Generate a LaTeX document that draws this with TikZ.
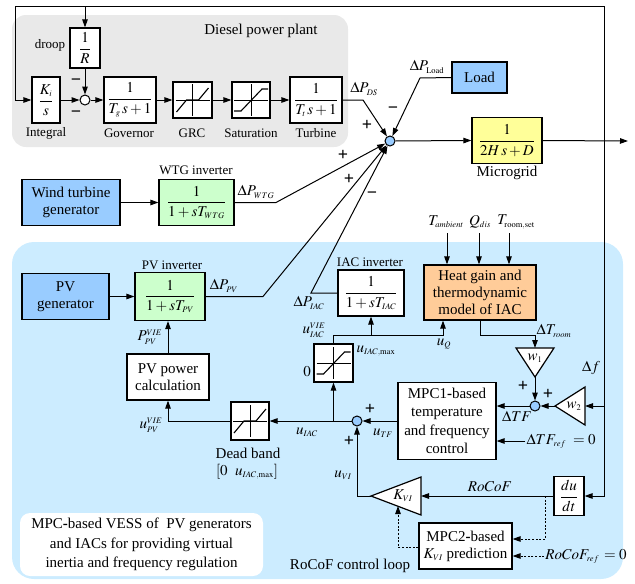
\documentclass[tikz,border=0pt]{standalone}
\usepackage{amsmath}
\usepackage{mathptmx}
\usepackage{fontspec}
\setmainfont{Liberation Serif}
\usetikzlibrary{arrows.meta, positioning, calc}
\DeclareMathSizes{15}{15}{8.5}{6.5}
\DeclareMathSizes{13}{13}{8}{6}
\definecolor{dieselgray}{RGB}{233,233,233}
\definecolor{vessblue}{RGB}{204,236,255}
\definecolor{genblue}{RGB}{153,204,255}
\definecolor{invgreen}{RGB}{204,255,204}
\definecolor{gridyellow}{RGB}{255,255,153}
\definecolor{heatorange}{RGB}{255,204,153}
\definecolor{sumblue}{RGB}{153,204,255}
\newcommand{\fsz}[2]{\fontsize{#1}{#2}\selectfont}

\begin{document}
\begin{tikzpicture}[
    x=1pt, y=-1pt,
    blk/.style={rectangle, draw, line width=1.2pt, fill=#1, inner sep=0pt,
                align=center, font=\fsz{15}{17}},
    blk/.default=white,
    caplbl/.style={font=\fsz{13}{15}, inner sep=1pt},
    lbl/.style={font=\fsz{15}{17}, inner sep=1pt},
    sgn/.style={font=\fsz{18}{18}\bfseries, inner sep=0pt},
    sumj/.style={circle, draw, line width=1pt, fill=#1, minimum size=10pt, inner sep=0pt},
    sumj/.default=sumblue,
    arr/.style={-{Triangle[length=8pt,width=5.5pt]}, line width=1pt},
    dotarr/.style={arr, dash pattern=on 2pt off 1.6pt},
    tri/.style={draw, line width=1.2pt, fill=white, line join=miter}
]
\useasboundingbox (0,0) rectangle (635,584);

% background regions
\fill[dieselgray, rounded corners=14pt] (12,15) rectangle (348,147);
\fill[vessblue, rounded corners=22pt] (12,242) rectangle (623,579);
\node[lbl] (dieseltitle) at (261,31) {Diesel power plant};

% diesel power plant
\node[blk, minimum width=28pt, minimum height=46pt] (integ) at (46,100) {$\dfrac{K_i}{s}$};
\node[blk, minimum width=30pt, minimum height=40pt] (droop) at (85,48) {$\dfrac{1}{R}$};
\node[sumj=white] (s1) at (85,100) {};
\node[blk, minimum width=52pt, minimum height=46pt] (gov) at (130,100) {$\dfrac{1}{T_g\,s+1}$};
\node[blk, minimum width=39pt, minimum height=36pt] (grc) at (192.5,100) {};
\node[blk, minimum width=38pt, minimum height=36pt] (sat) at (251,100) {};
\node[blk, minimum width=52pt, minimum height=46pt] (turb) at (316,100) {$\dfrac{1}{T_t\,s+1}$};
\node[caplbl] (droopl) at (50,45) {droop};
\node[caplbl] (integl) at (46,133) {Integral};
\node[caplbl] (govl) at (129,133) {Governor};
\node[caplbl] (grcl) at (192,133) {GRC};
\node[caplbl] (satl) at (251,133) {Saturation};
\node[caplbl] (turbl) at (316,133) {Turbine};
\node[sgn] (m1) at (76,82) {−};
\node[sgn] (m2) at (76,114) {−};

% microgrid
\node[sumj] (s0) at (390,141) {};
\node[blk=genblue, minimum width=55pt, minimum height=31pt] (load) at (479.5,77.5) {Load};
\node[blk=gridyellow, minimum width=70pt, minimum height=46pt] (mg) at (507,140.5) {$\dfrac{1}{2H\,s+D}$};
\node[lbl] (mgl) at (507,173) {Microgrid};
\node[lbl] (pds) at (364,89) {$\Delta P_{DS}$};
\node[lbl] (pload) at (427,67) {$\Delta P_{\mathrm{Load}}$};
\node[sgn] (p1) at (367,125) {+};
\node[sgn] (m3) at (393,110) {−};
\node[sgn] (p2) at (343,155) {+};
\node[sgn] (p3) at (349,179) {+};
\node[sgn] (m4) at (372,195) {−};

% wind turbine
\node[blk=genblue, minimum width=98pt, minimum height=46pt] (wtg) at (71,202.5) {Wind turbine\\generator};
\node[blk=invgreen, minimum width=75pt, minimum height=46pt] (wtginv) at (196.5,202.5) {$\dfrac{1}{1+sT_{WTG}}$};
\node[caplbl] (wtginvl) at (196,170) {WTG inverter};
\node[lbl] (pwtg) at (256,192) {$\Delta P_{WTG}$};

% PV and IAC
\node[blk=genblue, minimum width=87pt, minimum height=46pt] (pvgen) at (65.5,296.5) {PV\\generator};
\node[blk=invgreen, minimum width=70pt, minimum height=48pt] (pvinv) at (170,296.5) {$\dfrac{1}{1+sT_{PV}}$};
\node[caplbl] (pvinvl) at (172,265) {PV inverter};
\node[lbl] (ppv) at (224,286) {$\Delta P_{PV}$};
\node[blk, minimum width=66pt, minimum height=46pt] (iacinv) at (371,293) {$\dfrac{1}{1+sT_{IAC}}$};
\node[caplbl] (iacinvl) at (370,262) {IAC inverter};
\node[lbl] (piac) at (309,303) {$\Delta P_{IAC}$};
\node[blk=heatorange, minimum width=112pt, minimum height=55pt] (heat) at (480,292.5) {Heat gain and\\thermodynamic\\model of IAC};
\node[lbl] (tamb) at (446,222) {$T_{ambient}$};
\node[lbl] (qdis) at (480,222) {$Q_{dis}$};
\node[lbl] (tset) at (516,222) {$T_{\mathrm{room,set}}$};
\node[blk, minimum width=39pt, minimum height=38pt] (lim) at (333.5,363) {};
\node[lbl, inner sep=0pt] (uvie) at (314,330) {$u_{IAC}^{VIE}$};
\node[lbl] (umax) at (376,351) {$u_{IAC,\max}$};
\node[lbl] (zero) at (307,372) {$0$};
\node[lbl] (uq) at (444,344) {$u_Q$};
\node[blk, minimum width=38pt, minimum height=38pt] (db) at (250,421) {};
\node[lbl] (dbl) at (248,453) {Dead band};
\node[lbl] (dbr) at (247,472) {$[0\ \ u_{IAC,\max}]$};
\node[blk, minimum width=82pt, minimum height=46pt] (pvcalc) at (168,377) {PV power\\calculation};
\node[lbl, inner sep=0pt] (ppvvie) at (150,337) {$P_{PV}^{VIE}$};
\node[lbl, inner sep=0pt] (upvvie) at (151,425) {$u_{PV}^{VIE}$};
\node[lbl] (uiac) at (307,432) {$u_{IAC}$};

% MPC controllers
\node[sumj] (s2) at (357,421) {};
\node[blk, minimum width=98pt, minimum height=77pt, font=\fsz{15}{18.5}] (mpc1) at (447,421) {MPC1\textbf{-}based\\temperature\\and frequency\\control};
\node[lbl] (utf) at (383,433) {$u_{TF}$};
\node[sgn] (p4) at (370,409) {+};
\node[sgn] (p5) at (349,441) {+};
\node[lbl] (uvi) at (343,475) {$u_{VI}$};
\node[sumj] (s3) at (535,406) {};
\node[lbl] (dtf) at (517,416) {$\Delta TF$};
\node[sgn] (p6) at (523,386) {+};
\node[sgn] (p7) at (548,394) {+};
\node[lbl] (dtroom) at (554,331) {$\Delta T_{room}$};
\node[lbl] (df) at (591,368) {$\Delta f$};
\node[lbl] (tref) at (561,441) {$\Delta TF_{ref}\ =0$};
\node[blk, minimum width=30pt, minimum height=39pt] (dudt) at (569,496) {$\dfrac{du}{dt}$};
\node[lbl] (rocof) at (490,487) {$RoCoF$};
\node[blk, minimum width=93pt, minimum height=46pt] (mpc2) at (465.5,546) {MPC2\textbf{-}based\\$K_{VI}$ prediction};
\node[lbl] (rref) at (586,556) {$RoCoF_{ref}\,=0$};
\node[lbl] (loopl) at (350,566) {RoCoF control loop};
\node[fill=white, rounded corners=10pt, minimum width=243pt, minimum height=63pt,
      align=center, font=\fsz{15}{19.5}] (vess) at (141.5,544.5)
      {MPC\textbf{-}based VESS of \ PV generators\\and IACs for providing virtual\\inertia and frequency regulation};

% gain triangles
\coordinate (w1in) at (535,348);
\coordinate (w1out) at (535,377);
\coordinate (w2in) at (585,406);
\coordinate (w2out) at (555,406);
\coordinate (kviin) at (421,496);
\coordinate (kviout) at (371,496);
\coordinate (kvilow) at (398,506);
\draw[tri] (516,348) -- (554,348) -- (w1out) -- cycle;
\draw[tri] (585,387) -- (585,425) -- (w2out) -- cycle;
\draw[tri] (421,477) -- (421,515) -- (kviout) -- cycle;
\node[lbl] (w1) at (535,358) {$w_1$};
\node[lbl] (w2) at (574,406) {$w_2$};
\node[lbl] (kvi) at (403,496) {$K_{VI}$};

% nonlinear characteristics
\foreach \b in {grc,db}{
  \draw[line width=0.8pt, shift={(\b.center)}] (-17,0) -- (17,0) (0,-16) -- (0,16);
  \draw[line width=1.1pt, shift={(\b.center)}] (-16,12) -- (-6,0) -- (6,0) -- (16,-12);
}
\foreach \b in {sat,lim}{
  \draw[line width=0.8pt, shift={(\b.center)}] (-17,0) -- (17,0) (0,-16) -- (0,16);
  \draw[line width=1.1pt, shift={(\b.center)}] (-17,11) -- (-10,11) -- (11,-11) -- (17,-11);
}

% corner points
\coordinate (topL) at (15,6);
\coordinate (topR) at (604,6);
\coordinate (tapR) at (85,6);
\coordinate (fb) at (604,141);
\coordinate (tapf) at (604,406);
\coordinate (out) at (628,141);
\coordinate (dsk) at (363,100);
\coordinate (ldk) at (420,78);
\coordinate (wtk) at (276,202.5);
\coordinate (pvk) at (263,296.5);
\coordinate (iak) at (311,293);
\coordinate (uqk) at (443,335);
\coordinate (rck) at (545,496);
\coordinate (tambin) at (447,233);
\coordinate (qdisin) at (479,233);
\coordinate (tsetin) at (509,233);

% diesel loop
\draw[arr] (fb) -- (topR) -- (topL) |- (integ.west);
\draw[arr] (tapR) -- (droop.north);
\draw[arr] (droop.south) -- (s1);
\draw[arr] (integ.east) -- (s1);
\draw[arr] (s1) -- (gov.west);
\draw[arr] (gov.east) -- (grc.west);
\draw[arr] (grc.east) -- (sat.west);
\draw[arr] (sat.east) -- (turb.west);

% power balance
\draw[arr] (turb.east) -- (dsk) -- (s0);
\draw[arr] (load.west) -- (ldk) -- (s0);
\draw[arr] (wtginv.east) -- (wtk) -- (s0);
\draw[arr] (pvinv.east) -- (pvk) -- (s0);
\draw[arr] (iacinv.west) -- (iak) -- (s0);
\draw[arr] (wtg.east) -- (wtginv.west);
\draw[arr] (pvgen.east) -- (pvinv.west);
\draw[arr] (s0) -- (mg.west);
\draw[arr] (mg.east) -- (out);
\draw[arr] (fb) |- (dudt.east);
\draw[arr] (tapf) -- (w2in);

% IAC thermal model
\draw[arr] (tambin) -- (tambin |- heat.north);
\draw[arr] (qdisin) -- (qdisin |- heat.north);
\draw[arr] (tsetin) -- (tsetin |- heat.north);
\draw[arr] (heat.south) -- ++(0,15) -| (w1in);
\draw[arr] (w1out) -- (s3);
\draw[arr] (w2out) -- (s3);
\draw[arr] (s3) -- (s3 -| mpc1.east);
\draw[arr] (tref.west) -- (tref.west -| mpc1.east);

% control signals
\draw[arr] (mpc1.west) -- (s2);
\draw[arr] (s2) -- (db.east);
\draw[arr] (lim.south |- s2.center) -- (lim.south);
\draw[arr] (lim.north) |- (uqk) -- (uqk |- heat.south);
\draw[arr] (iacinv.south |- uqk) -- (iacinv.south);
\draw[arr] (db.west) -| (pvcalc.south);
\draw[arr] (pvcalc.north) -- (pvcalc.north |- pvinv.south);

% RoCoF loop
\draw[arr] (dudt.west) -- (kviin);
\draw[arr] (kviout) -| (s2.south);
\draw[dotarr] (rck) |- ([yshift=7pt]mpc2.east);
\draw[dotarr] (rref.west) -- (rref.west -| mpc2.east);
\draw[dotarr] ([yshift=-1pt]mpc2.west) -| (kvilow);
\end{tikzpicture}
\end{document}
